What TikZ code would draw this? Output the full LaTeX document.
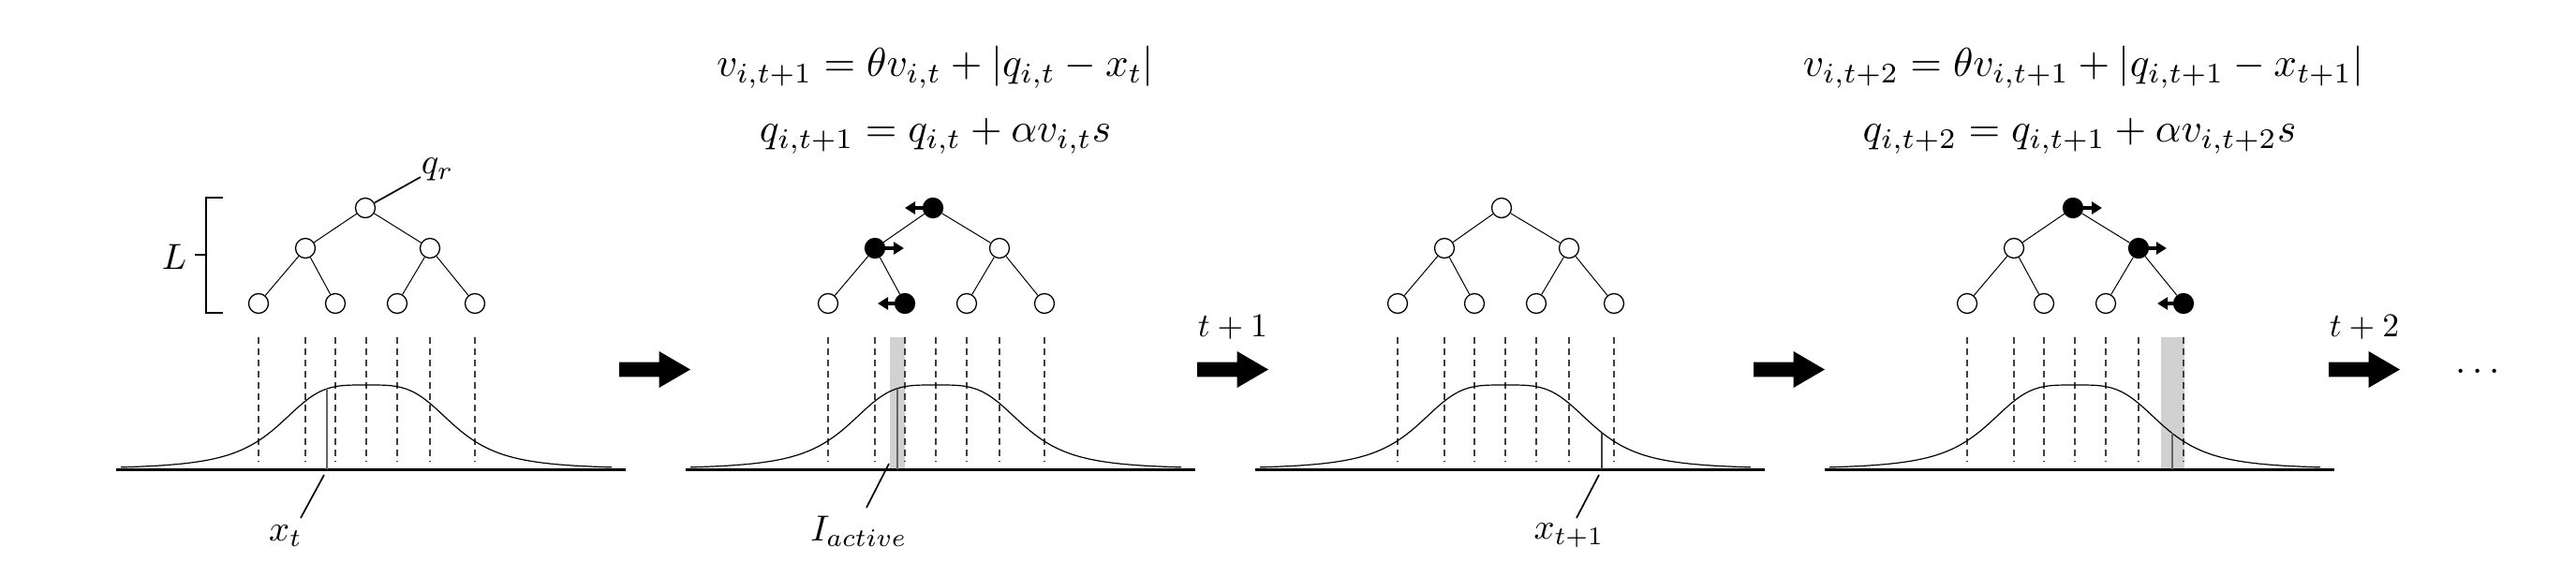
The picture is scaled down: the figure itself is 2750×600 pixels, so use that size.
\documentclass[tikz,border=0pt]{standalone}
\usetikzlibrary{arrows.meta}
\tikzset{
  nd/.style={circle,draw,line width=0.13mm,minimum size=2.1mm,inner sep=0pt,fill=white},
  fnd/.style={nd,fill=black},
  edge/.style={line width=0.1mm},
  bin/.style={dash pattern=on 0.7mm off 0.5mm, line width=0.15mm, black!75},
  gcurve/.style={line width=0.12mm},
  baseln/.style={line width=0.3mm},
  mv/.style={line width=0.4mm,-{Triangle[length=1.1mm,width=1.3mm]}},
  leader/.style={line width=0.17mm},
  xline/.style={line width=0.2mm,black!60},
  band/.style={fill=black!18},
  brk/.style={line width=0.25mm},
  eqn/.style={anchor=base,scale=1.23,inner sep=0pt},
  lbl/.style={scale=1.1,inner sep=0pt},
  bigarr/.pic={\fill (0,-7.8) -- (42.6,-7.8) -- (42.6,-19.5) -- (76,0) -- (42.6,19.5) -- (42.6,7.8) -- (0,7.8) -- cycle;}
}
\newcommand{\mytreep}[9]{%
  \node[#2] (r#1) at (#9,222) {};
  \node[#3] (a#1) at (326,265) {};
  \node[#4] (b#1) at (459,265) {};
  \node[#5] (c#1) at (276,324) {};
  \node[#6] (d#1) at (358,324) {};
  \node[#7] (e#1) at (424,324) {};
  \node[#8] (f#1) at (507,324) {};
  \draw[edge] (r#1) -- (a#1) (r#1) -- (b#1) (a#1) -- (c#1) (a#1) -- (d#1) (b#1) -- (e#1) (b#1) -- (f#1);
}
\newcommand{\mybasep}{%
  \foreach \xx in {276,326,358,391,424,459,507} \draw[bin] (\xx,360) -- (\xx,493);
  \draw[gcurve] plot[domain=-262:262,samples=131,smooth] ({391+\x},{501-90/(1+((abs(\x)+0.01)/96)^3.7)});
  \draw[baseln] (124,501) -- (668,501);
}
\begin{document}
\begin{tikzpicture}[x=0.1mm,y=-0.1mm]
\useasboundingbox (0,0) rectangle (2750,600);

% ---------- panel 1
\mybasep
\draw[xline] (349,501) -- (349,415);
\mytreep{1}{nd}{nd}{nd}{nd}{nd}{nd}{nd}{390}
\draw[brk] (238,211) -- (220,211) -- (220,334) -- (238,334);
\draw[brk] (208,272) -- (220,272);
\node[lbl] (L) at (186,274) {$L$};
\node[lbl] (qr) at (467,181) {$q_r$};
\coordinate (qrend) at (449,189);
\draw[leader] (r1) -- (qrend);
\coordinate (xtp) at (346,507);
\coordinate (xtq) at (321,553);
\node[lbl] (xtl) at (305,572) {$x_t$};
\draw[leader] (xtp) -- (xtq);

\pic at (661,394.5) {bigarr};

% ---------- panel 2
\begin{scope}[shift={(608,0)}]
\fill[band] (342,360) rectangle (358,501);
\mybasep
\draw[xline] (349.5,501) -- (349.5,415);
\mytreep{2}{fnd}{fnd}{nd}{nd}{fnd}{nd}{nd}{388}
\draw[mv] (r2.center) -- ++(-30,0);
\draw[mv] (a2.center) -- ++(31,0);
\draw[mv] (d2.center) -- ++(-29,0);
\coordinate (iap) at (341,495);
\coordinate (iaq) at (317,542);
\node[lbl] (ial) at (309,567) {$I_{active}$};
\draw[leader] (iap) -- (iaq);
\node[eqn] (eq1) at (390.5,82) {$v_{i,t+1} = \theta v_{i,t} + |q_{i,t} - x_t|$};
\node[eqn] (eq2) at (390.5,152) {$q_{i,t+1} = q_{i,t} + \alpha v_{i,t} s$};
\end{scope}

\pic at (1278,394.5) {bigarr};
\node[lbl,scale=0.92] (t1) at (1316,350) {$t+1$};

% ---------- panel 3
\begin{scope}[shift={(1216,0)}]
\mybasep
\draw[xline,black!75,line width=0.15mm] (494,501) -- (494,461.8);
\mytreep{3}{nd}{nd}{nd}{nd}{nd}{nd}{nd}{387}
\coordinate (xsp) at (491,507);
\coordinate (xsq) at (467,553);
\node[lbl] (xsl) at (459,572) {$x_{t+1}$};
\draw[leader] (xsp) -- (xsq);
\end{scope}

\pic at (1872,394.5) {bigarr};

% ---------- panel 4
\begin{scope}[shift={(1824,0)}]
\fill[band] (483,360) rectangle (508,501);
\mybasep
\draw[xline] (495,501) -- (495,462);
\mytreep{4}{fnd}{nd}{fnd}{nd}{nd}{nd}{fnd}{389}
\draw[mv] (r4.center) -- ++(31,0);
\draw[mv] (b4.center) -- ++(30,0);
\draw[mv] (f4.center) -- ++(-28,0);
\node[eqn] (eq3) at (400,82) {$v_{i,t+2} = \theta v_{i,t+1} + |q_{i,t+1} - x_{t+1}|$};
\node[eqn] (eq4) at (396,152) {$q_{i,t+2} = q_{i,t+1} + \alpha v_{i,t+2} s$};
\end{scope}

\pic at (2486,394.5) {bigarr};
\node[lbl,scale=0.92] (t2) at (2524,350) {$t+2$};
\node[lbl,scale=1.05] (dots) at (2645,397) {$\cdots$};
\end{tikzpicture}
\end{document}
